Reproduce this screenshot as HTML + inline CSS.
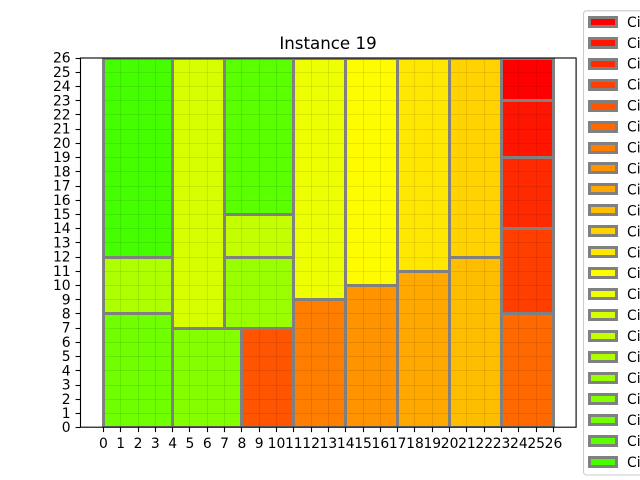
<!DOCTYPE html>
<html>
<head>
<meta charset="utf-8">
<style>
html,body{margin:0;padding:0;background:#fff;width:640px;height:480px;overflow:hidden}
svg{display:block}
text{font-family:"DejaVu Sans",sans-serif;fill:#000}
</style>
</head>
<body>
<svg id="chart" xmlns="http://www.w3.org/2000/svg" width="640" height="480" viewBox="0 0 640 480">
  <defs><clipPath id="plot-clip"><rect x="80.5" y="58" width="495.5" height="369.2"></rect></clipPath></defs>
  <text x="328" y="49" font-size="16.67" text-anchor="middle">Instance 19</text>
  <g id="marks" clip-path="url(#plot-clip)"></g>
  <g id="grid"></g>
  <g id="edges" clip-path="url(#plot-clip)"></g>
  <g id="axes"></g>
  <g id="legend"></g>
</svg>
<script>
var seriesNames = ["Circuit 0","Circuit 1","Circuit 2","Circuit 3","Circuit 4","Circuit 5","Circuit 6","Circuit 7","Circuit 8","Circuit 9","Circuit 10","Circuit 11","Circuit 12","Circuit 13","Circuit 14","Circuit 15","Circuit 16","Circuit 17","Circuit 18","Circuit 19","Circuit 20","Circuit 21"];
var blockX = [23,23,23,23,8,23,11,14,17,20,20,17,14,11,4,7,0,7,4,0,7,0];
var blockY = [23,19,14,8,0,0,0,0,0,0,12,11,10,9,7,12,8,7,0,0,15,12];
var blockW = [3,3,3,3,3,3,3,3,3,3,3,3,3,3,3,4,4,4,4,4,4,4];
var blockH = [3,4,5,6,7,8,9,10,11,12,14,15,16,17,19,3,4,5,7,8,11,14];
var tickLabels = [0,1,2,3,4,5,6,7,8,9,10,11,12,13,14,15,16,17,18,19,20,21,22,23,24,25,26];

var NS = 'http://www.w3.org/2000/svg';
function xScale(v){ return 103.4 + v * 17.31; }
function yScale(v){ return 427.2 - v * 14.215; }
function snapX(p){ return Math.floor(p) + 0.5; }
function snapY(p){ return Math.round(p) + 0.5; }
function colorFor(i){
  var t = i * 21;
  var r = t <= 255 ? 255 : Math.max(0, 510 - t);
  var g = t <= 255 ? t : 255;
  return 'rgb(' + r + ',' + g + ',0)';
}
function make(tag, attrs, parent){
  var el = document.createElementNS(NS, tag);
  for (var k in attrs) el.setAttribute(k, attrs[k]);
  parent.appendChild(el);
  return el;
}
var marks = document.getElementById('marks');
var grid = document.getElementById('grid');
var edges = document.getElementById('edges');
var axes = document.getElementById('axes');
var legend = document.getElementById('legend');

blockX.forEach(function(bx, i){
  var x0 = snapX(xScale(bx)), x1 = snapX(xScale(bx + blockW[i]));
  var y1 = snapY(yScale(blockY[i])), y0 = snapY(yScale(blockY[i] + blockH[i]));
  var r = make('rect', {x:x0, y:y0, width:x1-x0, height:y1-y0, fill:colorFor(i)}, marks);
  
  
  var e = make('rect', {x:x0, y:y0, width:x1-x0, height:y1-y0, fill:'none', stroke:'#808080', 'stroke-width':3}, edges);
  
  
});

tickLabels.forEach(function(t){
  var vx = snapX(xScale(t)), hy = snapY(yScale(t));
  var gv = make('line', {x1:vx, x2:vx, y1:yScale(0), y2:yScale(26), stroke:'#000', 'stroke-opacity':0.09, 'stroke-width':1.1}, grid);
  
  
  var gh = make('line', {x1:xScale(0), x2:xScale(26), y1:hy, y2:hy, stroke:'#000', 'stroke-opacity':0.09, 'stroke-width':1.1}, grid);
  
  

  var tx = make('line', {x1:vx, x2:vx, y1:427.2, y2:432.1, stroke:'#000', 'stroke-width':1.1}, axes);
  
  
  var ty = make('line', {x1:75.6, x2:80.5, y1:hy, y2:hy, stroke:'#000', 'stroke-width':1.1}, axes);
  
  

  var lx = make('text', {x:xScale(t), y:448, 'font-size':13.89, 'text-anchor':'middle'}, axes);
  
  
  lx.textContent = t;
  var ly = make('text', {x:70.6, y:yScale(t) + 5, 'font-size':13.89, 'text-anchor':'end'}, axes);
  
  
  ly.textContent = t;
});

var spine = make('rect', {x:80.5, y:58, width:495.6, height:369.2, fill:'none', stroke:'#000', 'stroke-width':1.1}, axes);



var frame = make('rect', {x:583.5, y:10.8, width:70, height:464.2, rx:3, ry:3, fill:'#fff', 'fill-opacity':0.8, stroke:'#cccccc', 'stroke-width':1.1}, legend);


seriesNames.forEach(function(name, i){
  var cy = 21.8 + i * 20.95;
  var h = make('rect', {x:589.5, y:Math.floor(cy - 4.5) + 0.5, width:27, height:9, fill:colorFor(i), stroke:'#808080', 'stroke-width':3}, legend);
  
  
  var t = make('text', {x:627, y:cy + 5, 'font-size':13.89}, legend);
  
  
  t.textContent = name;
});
</script>
</body>
</html>
